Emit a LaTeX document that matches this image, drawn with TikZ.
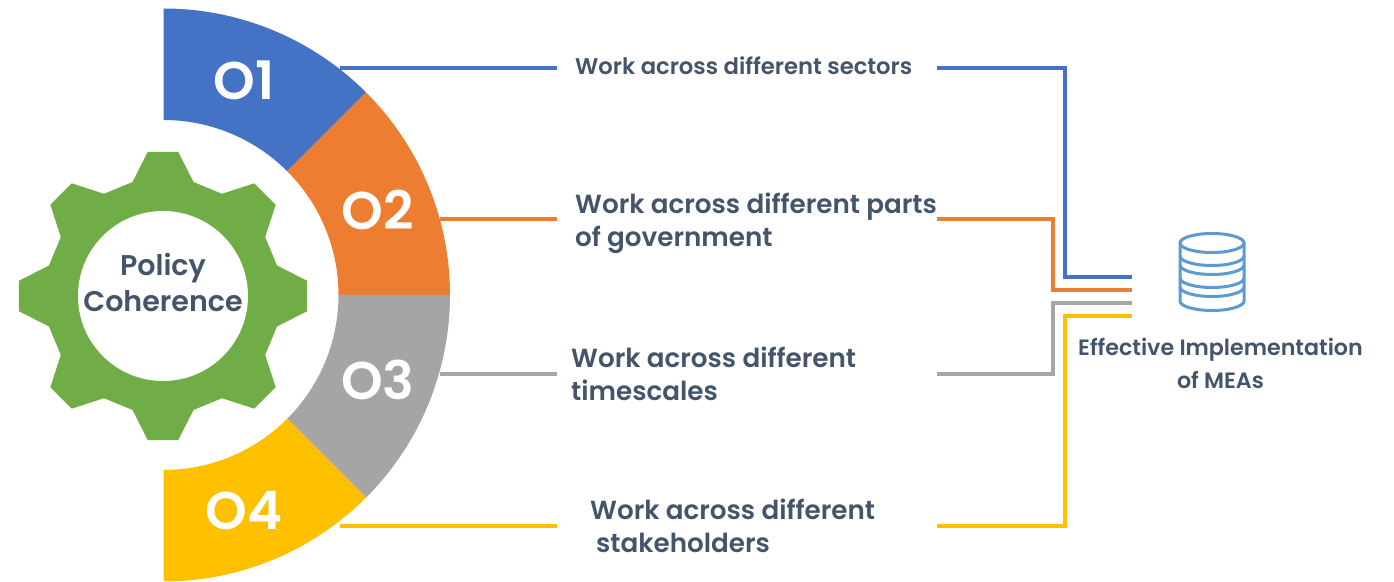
\documentclass[tikz,border=0pt]{standalone}
\usepackage{fontspec}
\setmainfont{Poppins}[BoldFont={Poppins SemiBold}]
\usetikzlibrary{calc}
\definecolor{sectorblue}{HTML}{4472C4}
\definecolor{partorange}{HTML}{ED7D31}
\definecolor{scalegray}{HTML}{A5A5A5}
\definecolor{holdergold}{HTML}{FFC000}
\definecolor{geargreen}{HTML}{70AD47}
\definecolor{inkslate}{HTML}{44546A}
\definecolor{drumblue}{HTML}{5B9BD5}
\tikzset{
  segnum/.style={text=white,font=\fontsize{53}{53}\selectfont\bfseries,inner sep=0pt},
  worktext/.style={text=inkslate,font=\fontsize{26.2}{33}\selectfont\bfseries,align=left,anchor=west,inner sep=0pt},
  smalltext/.style={text=inkslate,font=\fontsize{22.2}{33}\selectfont\bfseries,align=center,inner sep=0pt},
  link/.style={line width=3.4pt},
}
\begin{document}
\begin{tikzpicture}[x=1pt,y=1pt]
  \useasboundingbox (0,0) rectangle (1394,581);
  \coordinate (hub) at (163.5,286);
  \coordinate (gearhub) at (163,285);
  % four ring segments
  \foreach \from/\to/\col in {90/45/sectorblue,45/0/partorange,0/-45/scalegray,-45/-90/holdergold}
    \fill[\col] ($(hub)+(\from:175)$) -- ($(hub)+(\from:286.5)$) arc (\from:\to:286.5) -- ($(hub)+(\to:175)$) arc (\to:\from:175) -- cycle;
  \node[segnum] (o1) at (244,501) {O1};
  \node[segnum] (o2) at (378,371) {O2};
  \node[segnum] (o3) at (378,201) {O3};
  \node[segnum] (o4) at (244,70) {O4};
  % gear
  \fill[geargreen] ($(gearhub)+(75:118)$)
    foreach \a in {90,135,...,405} { -- ($(gearhub)+(\a-15:118)$) -- ($(gearhub)+(\a-6:145)$) -- ($(gearhub)+(\a+6:145)$) -- ($(gearhub)+(\a+15:118)$) } -- cycle;
  \node[circle,fill=white,minimum size=170pt,inner sep=0pt] (hole) at (gearhub) {};
  \node[text=inkslate,align=center,inner sep=0pt,
    font=\fontsize{28.5}{36}\selectfont\bfseries] (policy) at (163,299) {Policy\\Coherence};
  % texts
  \node[worktext,font=\fontsize{22.7}{33}\selectfont\bfseries] (w1) at (575,515.5) {Work across different sectors};
  \node[worktext] (w2) at (575,358) {Work across different parts\\of government};
  \node[worktext] (w3) at (571,207) {Work across different\\timescales};
  \node[worktext] (w4) at (590,55) {Work across different\\\hspace*{6pt}stakeholders};
  \node[smalltext] (mea) at (1220.5,218) {Effective Implementation\\of MEAs};
  % connectors
  \coordinate (w1a) at (557,513); \coordinate (w1b) at (937,513);
  \coordinate (w2a) at (557,362); \coordinate (w2b) at (937,362);
  \coordinate (w3a) at (557,207); \coordinate (w3b) at (937,207);
  \coordinate (w4a) at (557,55);  \coordinate (w4b) at (937,55);
  \coordinate (s1) at (340,513); \coordinate (s2) at (440,362);
  \coordinate (s3) at (440,207); \coordinate (s4) at (340,55);
  \coordinate (e1) at (1132,304); \coordinate (e2) at (1132,291);
  \coordinate (e3) at (1132,278); \coordinate (e4) at (1132,265);
  \draw[link,sectorblue] (s1) -- (w1a) (w1b) -- (1065,513) |- (e1);
  \draw[link,partorange] (s2) -- (w2a) (w2b) -- (1053,362) |- (e2);
  \draw[link,scalegray] (s3) -- (w3a) (w3b) -- (1053,207) |- (e3);
  \draw[link,holdergold] (s4) -- (w4a) (w4b) -- (1065,55) |- (e4);
  % drum icon
  \begin{scope}[drumblue,line width=3pt]
    \draw (1212,338) ellipse (32 and 9.5);
    \draw (1180,338) -- (1180,280) arc (180:360:32 and 9.5) -- (1244,338);
    \foreach \h in {325,316,303,294}
      \draw (1180,\h) arc (180:360:32 and 9.5);
  \end{scope}
\end{tikzpicture}
\end{document}
